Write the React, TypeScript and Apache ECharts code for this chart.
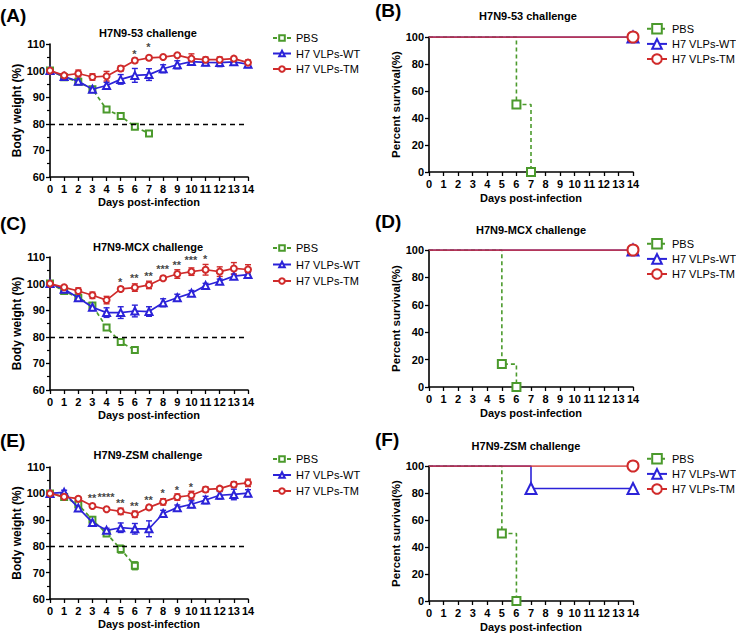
import { useEffect, useRef } from "react";
import * as echarts from "echarts";

// ---------- DATA ----------
const SERIES_NAMES = ["PBS", "H7 VLPs-WT", "H7 VLPs-TM"];
const TITLES = ["H7N9-53 challenge", "H7N9-53 challenge", "H7N9-MCX challenge", "H7N9-MCX challenge", "H7N9-ZSM challenge", "H7N9-ZSM challenge"];
const PANEL_LABELS = ["(A)", "(B)", "(C)", "(D)", "(E)", "(F)"];

// Panel A (H7N9-53) body weight
const pbsA = [100, 97.5, 95.8, 93, 85.4, 82.9, 78.9, 76.4];
const pbsAErr = [0, 0.5, 0.5, 0.5, 0.8, 0.5, 0.8, 0.6];
const wtA = [100, 97.8, 96, 93, 94.4, 96.7, 98.2, 98.5, 100.7, 102.2, 103.4, 103.1, 103, 103.3, 102.4];
const wtAErr = [0, 0.6, 1, 0.6, 1.2, 1.8, 2.6, 2.2, 1.5, 1.5, 1, 1.2, 1.5, 1.2, 1.2];
const tmA = [100, 98.2, 98.9, 97.6, 97.9, 100.8, 103.8, 104.8, 105.1, 105.8, 104.5, 104.1, 104.1, 104.5, 103];
const tmAErr = [0, 0.5, 1.3, 1.2, 1.8, 1, 0.8, 0.8, 0.5, 0.5, 1.8, 1, 1, 0.8, 1];
const starXA = [6, 7];
const starYA = [106, 108.6];
const starTextA = ["*", "*"];

// Panel C (H7N9-MCX) body weight
const pbsC = [100, 97.2, 94.7, 91.8, 83.5, 78, 75];
const pbsCErr = [0, 0.5, 0.5, 0.8, 0.6, 0.6, 0.5];
const wtC = [100, 97.9, 94.7, 91.1, 89.1, 89.1, 89.7, 89.5, 92.8, 94.7, 96.4, 99.3, 100.9, 102.8, 103.4];
const wtCErr = [0, 0.6, 0.8, 1.2, 1.8, 2.2, 2.2, 1.8, 1.5, 1.3, 1, 0.8, 0.8, 0.8, 0.8];
const tmC = [100, 98.6, 97.2, 95.6, 93.8, 98, 98.5, 99.5, 102, 103.6, 104.5, 105.2, 104.5, 105.7, 105.3];
const tmCErr = [0, 0.5, 1.2, 1.2, 1.4, 0.8, 1.4, 1.4, 0.8, 1.6, 1.4, 2, 1.8, 2.2, 1.8];
const starXC = [5, 6, 7, 8, 9, 10, 11];
const starYC = [100.6, 102, 102.5, 105.2, 106.7, 108.5, 109.2];
const starTextC = ["*", "**", "**", "***", "**", "***", "*"];

// Panel E (H7N9-ZSM) body weight
const pbsE = [100, 98.6, 95.8, 90, 84.8, 78.9, 72.6];
const pbsEErr = [0, 0.5, 0.8, 1.2, 0.8, 1.5, 1.5];
const wtE = [100, 100.4, 94.5, 89, 86, 87, 86.6, 86.6, 92.4, 94.6, 95.9, 97.5, 99.3, 99.6, 100.1];
const wtEErr = [0, 0.8, 0.8, 1, 0.8, 1.8, 2, 3, 1.2, 1, 1.3, 1.4, 1.4, 2, 1.3];
const tmE = [100, 98.7, 98, 95.2, 94, 93.2, 92.1, 94.7, 96.8, 98.6, 99.3, 101.5, 101.8, 103.4, 104];
const tmEErr = [0, 0.5, 0.6, 0.6, 0.6, 1.2, 1.2, 0.8, 1.2, 1.2, 1.5, 1, 0.8, 1, 1.4];
const starXE = [3, 4, 5, 6, 7, 8, 9, 10];
const starYE = [97.9, 98.6, 96.2, 95.1, 97.3, 100, 101.2, 102.3];
const starTextE = ["**", "****", "**", "**", "**", "*", "*", "*"];

// Survival (days, percent)
const survPbsB = [[0, 100], [6, 50], [7, 0]];
const survWtB = [[0, 100], [14, 100]];
const survTmB = [[0, 100], [14, 100]];
const survPbsD = [[0, 100], [5, 16.7], [6, 0]];
const survWtD = [[0, 100], [14, 100]];
const survTmD = [[0, 100], [14, 100]];
const survPbsF = [[0, 100], [5, 50], [6, 0]];
const survWtF = [[0, 100], [7, 83.3], [14, 83.3]];
const survTmF = [[0, 100], [14, 100]];

// ---------- STYLE / LAYOUT ----------
const FONT = "Arial, 'Liberation Sans', Helvetica, sans-serif";
const GREEN = "#4b9a2c";
const BLUE = "#2b22d8";
const RED = "#d02b2b";
const COLORS = [GREEN, BLUE, RED];

const GRIDS = [
  { left: 50, top: 44, width: 198, height: 133 },
  { left: 429, top: 37, width: 204, height: 135 },
  { left: 50, top: 257, width: 198, height: 133 },
  { left: 429, top: 250, width: 204, height: 137 },
  { left: 50, top: 467, width: 198, height: 132 },
  { left: 429, top: 466, width: 204, height: 135 },
];
const TITLE_POS = [[148, 33], [528, 16], [148, 247], [531, 230], [148, 455], [526, 446]];
const LABEL_POS = [[0, 15], [375, 10], [0, 223], [375, 221], [0, 440], [375, 439]];
const LEGENDS = [
  { left: 272, top: 32.5, gap: 4.5, h: 7, w: 18 },
  { left: 646, top: 23, gap: 3.5, h: 12, w: 20 },
  { left: 272, top: 242.5, gap: 5.5, h: 7, w: 18 },
  { left: 646, top: 238, gap: 3.5, h: 12, w: 20 },
  { left: 272, top: 453.5, gap: 5, h: 7, w: 18 },
  { left: 646, top: 453, gap: 3.5, h: 12, w: 20 },
];

const axisCommon = {
  axisLine: { show: true, onZero: false, lineStyle: { color: "#000", width: 1.6 } },
  axisTick: { show: true, length: 4, lineStyle: { color: "#000", width: 1.3 } },
  axisLabel: { fontSize: 11, fontWeight: "bold", color: "#000", fontFamily: FONT },
  splitLine: { show: false },
  nameLocation: "middle",
  nameTextStyle: { fontSize: 11, fontWeight: "bold", color: "#000", fontFamily: FONT },
};

function buildOption() {
  const xAxis: any[] = [];
  const yAxis: any[] = [];
  GRIDS.forEach((_, g) => {
    const weight = g % 2 === 0;
    xAxis.push({
      ...axisCommon,
      gridIndex: g,
      type: "value",
      min: 0,
      max: 14,
      interval: 1,
      name: "Days post-infection",
      nameGap: weight ? 19 : 20,
      axisLabel: { ...axisCommon.axisLabel, margin: 6 },
    });
    yAxis.push({
      ...axisCommon,
      gridIndex: g,
      type: "value",
      min: weight ? 60 : 0,
      max: weight ? 110 : 100,
      interval: weight ? 10 : 20,
      name: weight ? "Body weight (%)" : "Percent survival(%)",
      nameGap: weight ? 26 : 27,
      nameTextStyle: { ...axisCommon.nameTextStyle, fontSize: weight ? 12 : 11.5 },
      axisLabel: { ...axisCommon.axisLabel, margin: 5 },
      minorTick: weight
        ? { show: true, splitNumber: 2, length: 3, lineStyle: { color: "#000", width: 1.2 } }
        : { show: false },
    });
  });

  const series: any[] = [];
  const symbols = ["emptyRect", "emptyTriangle", "emptyCircle"];
  const weightSets = [
    { g: 0, vals: [pbsA, wtA, tmA], errs: [pbsAErr, wtAErr, tmAErr], sx: starXA, sy: starYA, st: starTextA },
    { g: 2, vals: [pbsC, wtC, tmC], errs: [pbsCErr, wtCErr, tmCErr], sx: starXC, sy: starYC, st: starTextC },
    { g: 4, vals: [pbsE, wtE, tmE], errs: [pbsEErr, wtEErr, tmEErr], sx: starXE, sy: starYE, st: starTextE },
  ];

  weightSets.forEach((set) => {
    set.vals.forEach((vals, k) => {
      const color = COLORS[k];
      const errs = set.errs[k];
      // error bars
      series.push({
        type: "custom",
        xAxisIndex: set.g,
        yAxisIndex: set.g,
        z: 2,
        silent: true,
        encode: { x: 0, y: [1, 2] },
        data: vals.map((v, i) => [i, v - errs[i], v + errs[i]]).filter((d, i) => errs[i] > 0),
        renderItem: (params: any, api: any) => {
          const x = api.value(0);
          const top = api.coord([x, api.value(2)]);
          const bot = api.coord([x, api.value(1)]);
          const w = 3;
          const style = { stroke: color, lineWidth: 1.4 };
          return {
            type: "group",
            children: [
              { type: "line", shape: { x1: top[0], y1: top[1], x2: bot[0], y2: bot[1] }, style },
              { type: "line", shape: { x1: top[0] - w, y1: top[1], x2: top[0] + w, y2: top[1] }, style },
              { type: "line", shape: { x1: bot[0] - w, y1: bot[1], x2: bot[0] + w, y2: bot[1] }, style },
            ],
          };
        },
      });
      const s: any = {
        name: SERIES_NAMES[k],
        type: "line",
        xAxisIndex: set.g,
        yAxisIndex: set.g,
        z: 3 + k,
        data: vals.map((v, i) => [i, v]),
        symbol: symbols[k],
        symbolSize: k === 1 ? 7 : 6,
        lineStyle: { color, width: 1.7, type: k === 0 ? [4, 3] : "solid" },
        itemStyle: { color, borderWidth: 1.5 },
      };
      if (k === 0) {
        s.markLine = {
          silent: true,
          symbol: ["none", "none"],
          label: { show: false },
          lineStyle: { color: "#000", type: [5, 4], width: 1.3 },
          data: [{ yAxis: 80 }],
        };
      }
      series.push(s);
    });
    series.push({
      type: "scatter",
      xAxisIndex: set.g,
      yAxisIndex: set.g,
      symbolSize: 1,
      silent: true,
      z: 10,
      itemStyle: { color: "rgba(255,255,255,0)" },
      label: {
        show: true,
        position: [0, 0],
        align: "center",
        verticalAlign: "middle",
        formatter: (p: any) => p.name,
        fontSize: 11,
        fontWeight: "bold",
        color: "#111",
        textBorderWidth: 0,
        fontFamily: FONT,
      },
      data: set.sx.map((x, i) => ({ value: [x, set.sy[i]], name: set.st[i] })),
    });
  });

  const survSets = [
    { g: 1, d: [survPbsB, survWtB, survTmB] },
    { g: 3, d: [survPbsD, survWtD, survTmD] },
    { g: 5, d: [survPbsF, survWtF, survTmF] },
  ];
  survSets.forEach((set) => {
    set.d.forEach((pts, k) => {
      const color = COLORS[k];
      series.push({
        name: SERIES_NAMES[k],
        type: "line",
        step: "end",
        xAxisIndex: set.g,
        yAxisIndex: set.g,
        z: 3 + k,
        symbol: symbols[k],
        symbolSize: k === 0 ? 8 : 11,
        data: pts.map((p, i) => (i === 0 ? { value: p, symbol: "none" } : { value: p })),
        lineStyle: { color, width: 1.6, type: k === 0 ? [4, 3] : "solid" },
        itemStyle: { color, borderWidth: 1.6 },
      });
    });
  });

  const legend = LEGENDS.map((l) => ({
    orient: "vertical",
    left: l.left,
    top: l.top,
    padding: 0,
    itemGap: l.gap,
    itemWidth: l.w,
    itemHeight: l.h,
    selectedMode: false,
    data: SERIES_NAMES,
    textStyle: { fontSize: 11, color: "#000", fontFamily: FONT },
  }));

  const graphic: any[] = [];
  TITLES.forEach((t, i) => {
    graphic.push({
      type: "text",
      x: TITLE_POS[i][0],
      y: TITLE_POS[i][1],
      style: {
        text: t,
        align: "center",
        verticalAlign: "middle",
        fontSize: 11,
        fontWeight: "bold",
        fontFamily: FONT,
        fill: "#000",
      },
    });
  });
  PANEL_LABELS.forEach((t, i) => {
    graphic.push({
      type: "text",
      x: LABEL_POS[i][0],
      y: LABEL_POS[i][1],
      style: {
        text: t,
        align: "left",
        verticalAlign: "middle",
        fontSize: 19,
        fontWeight: "bold",
        fontFamily: FONT,
        fill: "#000",
      },
    });
  });

  return {
    animation: false,
    backgroundColor: "#fff",
    grid: GRIDS,
    xAxis,
    yAxis,
    legend,
    graphic,
    series,
  };
}

export default function App() {
  const ref = useRef<HTMLDivElement>(null);
  useEffect(() => {
    if (!ref.current) return;
    const chart = echarts.init(ref.current, undefined, { renderer: "svg" });
    chart.setOption(buildOption() as any);
    return () => chart.dispose();
  }, []);
  return (
    <div
      ref={ref}
      style={{ position: "fixed", left: 0, top: 0, width: 736, height: 633, background: "#fff" }}
    />
  );
}
